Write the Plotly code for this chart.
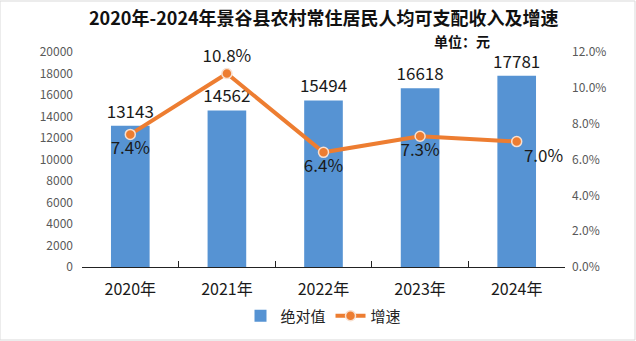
import plotly.graph_objects as go

years = ["2020年", "2021年", "2022年", "2023年", "2024年"]
income = [13143, 14562, 15494, 16618, 17781]
growth = [7.4, 10.8, 6.4, 7.3, 7.0]
growth_pos = ["bottom center", "top center", "bottom center", "bottom center", "bottom right"]

left_ticks = list(range(0, 20001, 2000))
right_ticks = [0, 2, 4, 6, 8, 10, 12]

font_cjk = "Noto Sans CJK SC, Microsoft YaHei, sans-serif"

fig = go.Figure()
fig.add_trace(go.Bar(
    x=years, y=income, name="绝对值",
    marker=dict(color="#5693d3", line=dict(width=0)),
    width=0.4,
    text=[str(v) for v in income], textposition="outside",
    textfont=dict(size=17, color="#1a1a1a"),
    constraintext="none",
    cliponaxis=False,
))
fig.add_trace(go.Scatter(
    x=years, y=growth, name="增速", yaxis="y2",
    mode="lines+markers+text",
    line=dict(color="#ed7d31", width=4),
    marker=dict(size=10, color="#ed7d31", line=dict(color="#f8e0d0", width=1.5)),
    text=[f"{v:.1f}%" for v in growth], textposition=growth_pos,
    textfont=dict(size=17, color="#1a1a1a"),
    cliponaxis=False,
))

fig.update_layout(
    width=636, height=341,
    margin=dict(l=82, r=71, t=52, b=74, autoexpand=False),
    paper_bgcolor="white", plot_bgcolor="white",
    font=dict(family=font_cjk, color="#222"),
    showlegend=True,
    legend=dict(orientation="h", x=0.5, xanchor="center",
                yref="container", y=1 - 316 / 341, yanchor="middle",
                font=dict(size=15, color="#222"), itemwidth=30, tracegroupgap=0),
    xaxis=dict(
        type="category", showgrid=False, showline=True, linecolor="#222", linewidth=1,
        ticks="inside", tickson="boundaries", ticklen=6, tickcolor="#222",
        tickfont=dict(size=16, color="#1a1a1a"), ticklabelstandoff=8,
    ),
    yaxis=dict(
        range=[0, 20000], tickvals=left_ticks, ticktext=[str(v) for v in left_ticks],
        showgrid=False, zeroline=False, ticklabelstandoff=8,
        showline=False, tickfont=dict(size=12, color="#595959"), ticks="",
    ),
    yaxis2=dict(
        overlaying="y", side="right", range=[0, 12], tickvals=right_ticks,
        ticktext=[f"{v:.1f}%" for v in right_ticks], showgrid=False, zeroline=False,
        showline=False, tickfont=dict(size=12, color="#595959"), ticklabelstandoff=6,
    ),
    shapes=[dict(type="rect", xref="paper", yref="paper", x0=-82/483, x1=1+70/483,
                 y0=-73/215, y1=1+51/215, line=dict(color="#d9d9d9", width=1))],
    annotations=[
        dict(text="<b>2020年-2024年景谷县农村常住居民人均可支配收入及增速</b>",
             xref="paper", yref="paper", x=0.5, y=1+35/215, xanchor="center", yanchor="middle",
             showarrow=False, font=dict(size=18, color="#111")),
        dict(text="<b>单位：元</b>", xref="paper", yref="paper",
             x=(462-82)/483, y=1+11/215, xanchor="center", yanchor="middle",
             showarrow=False, font=dict(size=14, color="#111")),
    ],
)

fig.write_html("out.html")
